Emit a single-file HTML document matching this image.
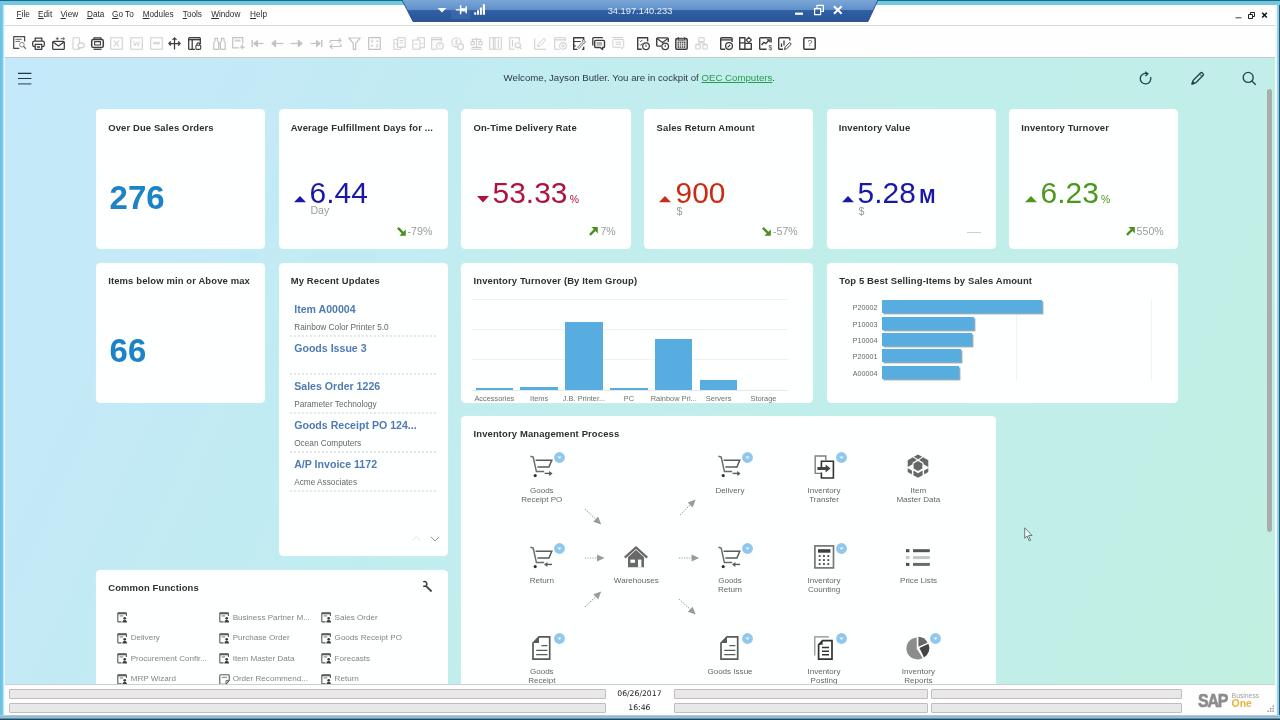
<!DOCTYPE html>
<html lang="en"><head><meta charset="utf-8"><title>SAP Business One - Cockpit</title>
<style>
html,body{margin:0;padding:0;}
body{width:1280px;height:720px;overflow:hidden;position:relative;font-family:"Liberation Sans",sans-serif;background:#6ec6e0;}
.t{position:absolute;line-height:1;white-space:nowrap;}
.card{position:absolute;background:rgba(255,255,255,.975);border-radius:4.5px;box-shadow:0 0 1px rgba(255,255,255,.6);}
svg{position:absolute;overflow:visible;}
#stage{position:absolute;left:0;top:0;width:1280px;height:720px;overflow:hidden;will-change:transform;}
</style></head><body><div id="stage">
<div style="position:absolute;left:4px;top:58px;width:1272px;height:627px;background:linear-gradient(115deg,#c4e9fa 0%,#c4e9f7 13%,#c1ebf3 27%,#c1edee 42%,#c0eeea 62%,#c1eee8 81%,#c1f0e0 100%);"></div>
<div style="position:absolute;left:3px;top:5px;width:1273px;height:20px;background:#fff;"></div>
<div style="position:absolute;left:3px;top:25px;width:1273px;height:1px;background:#d9d9d9;"></div>
<div style="position:absolute;left:3px;top:26px;width:1273px;height:31px;background:#fefefe;"></div>
<div style="position:absolute;left:3px;top:56.6px;width:1273px;height:1.4px;background:linear-gradient(180deg,#d9dcdb,#b3bbbb);"></div>
<div class="t" style="left:16.60px;top:11.00px;font-size:8.2px;color:#2b2b2b;text-underline-offset:1px;"><u>F</u>ile</div>
<div class="t" style="left:38.10px;top:11.00px;font-size:8.2px;color:#2b2b2b;text-underline-offset:1px;"><u>E</u>dit</div>
<div class="t" style="left:60.50px;top:11.00px;font-size:8.2px;color:#2b2b2b;text-underline-offset:1px;"><u>V</u>iew</div>
<div class="t" style="left:87.00px;top:11.00px;font-size:8.2px;color:#2b2b2b;text-underline-offset:1px;"><u>D</u>ata</div>
<div class="t" style="left:112.00px;top:11.00px;font-size:8.2px;color:#2b2b2b;text-underline-offset:1px;"><u>G</u>o To</div>
<div class="t" style="left:142.70px;top:11.00px;font-size:8.2px;color:#2b2b2b;text-underline-offset:1px;"><u>M</u>odules</div>
<div class="t" style="left:182.80px;top:11.00px;font-size:8.2px;color:#2b2b2b;text-underline-offset:1px;"><u>T</u>ools</div>
<div class="t" style="left:211.20px;top:11.00px;font-size:8.2px;color:#2b2b2b;text-underline-offset:1px;"><u>W</u>indow</div>
<div class="t" style="left:250.10px;top:11.00px;font-size:8.2px;color:#2b2b2b;text-underline-offset:1px;"><u>H</u>elp</div>
<svg style="left:1228px;top:8px" width="46" height="14" viewBox="0 0 46 14"><rect x="7.5" y="9" width="6" height="1.4" fill="#777"/><path d="M20.500 6.500h4v4h-4zM22.500 6.300V4.500h4v4h-1.800" fill="none" stroke="#222" stroke-width="1"/><path d="M34.2 4.8l4.6 4.8M38.8 4.8l-4.6 4.8" stroke="#111" stroke-width="1.5"/></svg>
<svg style="left:13.2px;top:36.1px" width="13" height="13" viewBox="0 0 13 13" fill="none" stroke="#3d3d3d" stroke-width="1.25" stroke-linejoin="round"><path d="M11.600 5.600V.7H.7v11.600h5.600" stroke="#4a4a4a"/><path d="M2.400 3.300h6.400M2.400 5.400h4.600" stroke-width="1" stroke="#666"/><circle cx="8.900" cy="8.700" r="2.300" stroke-width="1" stroke="#8a8a8a"/><path d="M10.500 10.400l2.300 2.300" stroke="#666"/></svg>
<svg style="left:31.9px;top:36.8px" width="13" height="13" viewBox="0 0 13 13" fill="none" stroke="#3d3d3d" stroke-width="1.25" stroke-linejoin="round"><path d="M3.2 4V1.1h6.6V4"/><rect x=".7" y="4" width="11.6" height="5.6" rx="1.6"/><rect x="3.2" y="7.4" width="6.6" height="4.9" fill="#fefefe"/><path d="M5 10h3" stroke-width="1.5"/></svg>
<svg style="left:52px;top:36.8px" width="13" height="13" viewBox="0 0 13 13" fill="none" stroke="#3d3d3d" stroke-width="1.25" stroke-linejoin="round"><rect x=".7" y="4.400" width="11.600" height="8" rx=".9"/><path d="M1 5l5.500 4 5.500-4"/><path d="M3.800 1.700h3M5.300 .2v3M8.600 1.700h3.800M11.200 .4l1.300 1.300-1.300 1.300" stroke-width=".9" stroke="#555"/></svg>
<svg style="left:71.7px;top:36.8px" width="13" height="13" viewBox="0 0 13 13" fill="none" stroke="#d0d0d0" stroke-width="1.1" stroke-linejoin="round"><rect x="1" y=".7" width="6.6" height="11.6" rx="1"/><ellipse cx="9.2" cy="8.4" rx="3.2" ry="2.5" fill="#fefefe"/><path d="M7 10.5l-.8 1.6 2-.9"/></svg>
<svg style="left:91px;top:36.8px" width="13" height="13" viewBox="0 0 13 13" fill="none" stroke="#3d3d3d" stroke-width="1.25" stroke-linejoin="round"><path d="M3 2.6V.9h7v1.7"/><rect x=".7" y="2.6" width="11.6" height="7.8" rx="1.6" stroke-width="1.5"/><rect x="3.6" y="4.6" width="5.8" height="3.4" stroke-width="1.1"/><path d="M2.6 12.4h7.8" stroke-width="1.1"/></svg>
<svg style="left:110.2px;top:36.8px" width="13" height="13" viewBox="0 0 13 13" fill="none" stroke="#d0d0d0" stroke-width="1.1" stroke-linejoin="round"><rect x=".7" y=".7" width="11.6" height="11.6"/><path d="M4 3.5l5 6M9 3.5l-5 6"/></svg>
<svg style="left:130.2px;top:36.8px" width="13" height="13" viewBox="0 0 13 13" fill="none" stroke="#d0d0d0" stroke-width="1.1" stroke-linejoin="round"><rect x=".7" y=".7" width="11.6" height="11.6"/><path d="M3.6 4.2l1.2 4.6 1.7-3.6 1.7 3.6 1.2-4.6" stroke-width=".9"/></svg>
<svg style="left:149.6px;top:36.8px" width="13" height="13" viewBox="0 0 13 13" fill="none" stroke="#d0d0d0" stroke-width="1.1" stroke-linejoin="round"><rect x=".7" y=".7" width="11.6" height="11.6"/><rect x="3.2" y="4.8" width="6.6" height="2.6" fill="#d8d8d8" stroke="none"/></svg>
<svg style="left:168.1px;top:36.8px" width="13" height="13" viewBox="0 0 13 13" fill="none" stroke="#3d3d3d" stroke-width="1.25" stroke-linejoin="round"><path d="M6.5 .9v11.6M.9 6.5h11.2"/><path d="M4.5 2.9l2-2 2 2M2.9 4.5l-2 2 2 2M10.1 4.5l2 2-2 2" /></svg>
<svg style="left:187.6px;top:36.8px" width="13" height="13" viewBox="0 0 13 13" fill="none" stroke="#3d3d3d" stroke-width="1.25" stroke-linejoin="round"><path d="M12.3 7V1.6a.9 .9 0 0 0-.9-.9H1.6a.9 .9 0 0 0-.9 .9v9.8a.9 .9 0 0 0 .9 .9H7" stroke-width="1.300"/><path d="M.7 2.600h11.600" stroke-width="1.500"/><path d="M4.200 2.700v9.600" stroke-width="1.300"/><rect x="7.9" y="8.2" width="4.8" height="4.2" rx=".9" fill="#fefefe" stroke-width="1.1"/><path d="M8.9 8.2V7.3a1.4 1.4 0 0 1 2.8 0v.9" stroke-width="1.1"/></svg>
<svg style="left:212.9px;top:36.8px" width="13" height="13" viewBox="0 0 13 13" fill="none" stroke="#c3c3c3" stroke-width="1.2" stroke-linejoin="round"><path d="M.8 12.3V5.6L2 4V1.3h2.6V4l1.1 1.6v6.7zM12.2 12.3V5.6L11 4V1.3H8.4V4L7.3 5.6v6.7zM5.7 6.6h1.6"/></svg>
<svg style="left:232.3px;top:36.8px" width="13" height="13" viewBox="0 0 13 13" fill="none" stroke="#c3c3c3" stroke-width="1.2" stroke-linejoin="round"><path d="M10.8 6.5V.7H.7v10.1h6"/><rect x="2.600" y="2.600" width="6" height="2" fill="#d0d0d0" stroke="none"/><path d="M10.2 7.6v5M7.7 10.1h5" stroke-width="1.4"/></svg>
<svg style="left:251px;top:36.8px" width="13" height="13" viewBox="0 0 13 13" fill="none" stroke="#c3c3c3" stroke-width="1.2" stroke-linejoin="round"><path d="M1.2 3v7" stroke-width="1.4"/><path d="M12.6 6.5H5"/><path d="M3 6.5l3.4-2.9v5.8z" fill="#c3c3c3"/></svg>
<svg style="left:271.3px;top:36.8px" width="13" height="13" viewBox="0 0 13 13" fill="none" stroke="#c3c3c3" stroke-width="1.2" stroke-linejoin="round"><path d="M12.6 6.5H3.5"/><path d="M1 6.5l3.6-3v6z" fill="#c3c3c3"/></svg>
<svg style="left:290px;top:36.8px" width="13" height="13" viewBox="0 0 13 13" fill="none" stroke="#c3c3c3" stroke-width="1.2" stroke-linejoin="round"><path d="M.4 6.5h9"/><path d="M12 6.5l-3.6-3v6z" fill="#c3c3c3"/></svg>
<svg style="left:309.5px;top:36.8px" width="13" height="13" viewBox="0 0 13 13" fill="none" stroke="#c3c3c3" stroke-width="1.2" stroke-linejoin="round"><path d="M11.8 3v7" stroke-width="1.4"/><path d="M.4 6.5H8"/><path d="M10 6.5L6.6 3.6v5.8z" fill="#c3c3c3"/></svg>
<svg style="left:329px;top:36.8px" width="13" height="13" viewBox="0 0 13 13" fill="none" stroke="#c3c3c3" stroke-width="1.2" stroke-linejoin="round"><path d="M1.2 6V3.5h10.6M9.6 1.2l2.3 2.3-2.3 2.3M11.8 7v2.5H1.2M3.4 7.2L1.1 9.5l2.3 2.3"/></svg>
<svg style="left:348.2px;top:36.8px" width="13" height="13" viewBox="0 0 13 13" fill="none" stroke="#c3c3c3" stroke-width="1.2" stroke-linejoin="round"><path d="M.8 1h11.4L7.7 6.4v5.9H5.3V6.4z"/></svg>
<svg style="left:367.5px;top:36.8px" width="13" height="13" viewBox="0 0 13 13" fill="none" stroke="#c3c3c3" stroke-width="1.2" stroke-linejoin="round"><rect x=".7" y=".7" width="11.6" height="11.6"/><path d="M3.2 3.2h2l-2 2h2M8 4.2h2.4M9.4 3.2l1 1-1 1M5.4 8.8H3M4 7.8l-1 1 1 1M8 7.8h2l-2 2h2" stroke-width=".7"/></svg>
<svg style="left:392.7px;top:36.8px" width="13" height="13" viewBox="0 0 13 13" fill="none" stroke="#d0d0d0" stroke-width="1.1" stroke-linejoin="round"><rect x="4.6" y=".7" width="7.6" height="9.4"/><path d="M4.6 2.6H.9v9.7h6.6v-2.2M6.6 3.6h3.6M6.6 5.8h3.6M2.4 7h3" stroke-width="1"/></svg>
<svg style="left:412px;top:36.8px" width="13" height="13" viewBox="0 0 13 13" fill="none" stroke="#d0d0d0" stroke-width="1.1" stroke-linejoin="round"><rect x=".9" y="3" width="7" height="9.3"/><path d="M5.6 3V.7h6.7v10H7.9"/><path d="M2.8 7h2.6M9.4 6.5h1.8" stroke-width="1"/></svg>
<svg style="left:431.2px;top:36.8px" width="13" height="13" viewBox="0 0 13 13" fill="none" stroke="#d0d0d0" stroke-width="1.1" stroke-linejoin="round"><path d="M10.4 4V.7H.7v11.6h5.5M.7 2.6h9.7"/><circle cx="8.9" cy="8.9" r="3.3" fill="#fefefe"/><path d="M8.9 7.2v2.2" stroke-width="1"/></svg>
<svg style="left:450.7px;top:36.8px" width="13" height="13" viewBox="0 0 13 13" fill="none" stroke="#d0d0d0" stroke-width="1.1" stroke-linejoin="round"><circle cx="5.4" cy="5.3" r="4.6"/><circle cx="9.6" cy="9.8" r="2.9" fill="#fefefe"/><path d="M6.9 3.8c-1.6-1-3.3 .3-1.6 1.3 1.9 .8 .9 2.4-1.6 1.3M5.3 2.4v5.8" stroke-width=".8"/></svg>
<svg style="left:470px;top:36.8px" width="13" height="13" viewBox="0 0 13 13" fill="none" stroke="#d0d0d0" stroke-width="1.1" stroke-linejoin="round"><path d="M.8 12.3h11.4M1.6 10.4h9.8M6.5 .4v10M1.6 2.4h9.8M2.6 2.4v2.2M10.4 2.4v2.2"/><rect x="1" y="4.6" width="3.2" height="3"/><rect x="8.8" y="4.6" width="3.2" height="3"/></svg>
<svg style="left:489.2px;top:36.8px" width="13" height="13" viewBox="0 0 13 13" fill="none" stroke="#d0d0d0" stroke-width="1.1" stroke-linejoin="round"><rect x=".7" y=".7" width="11.6" height="11.6"/><path d="M4.4 .7v11.6M6 .7v11.6M9.3 2.2v8.6"/></svg>
<svg style="left:509px;top:36.8px" width="13" height="13" viewBox="0 0 13 13" fill="none" stroke="#d0d0d0" stroke-width="1.1" stroke-linejoin="round"><path d="M10.4 4.6V.7H.7v11.6h5M3.4 3v6.4"/><circle cx="8.8" cy="8.3" r="2.6" fill="#fefefe"/><path d="M10.6 10.2l2 2.1"/></svg>
<svg style="left:533.9px;top:36.8px" width="13" height="13" viewBox="0 0 13 13" fill="none" stroke="#d0d0d0" stroke-width="1.1" stroke-linejoin="round"><path d="M.7 1.6v10.7h11.4"/><path d="M3.4 9.6l.9-2.7L10 1.2l1.8 1.8-5.7 5.7z" stroke-width="1"/></svg>
<svg style="left:553.5px;top:36.8px" width="13" height="13" viewBox="0 0 13 13" fill="none" stroke="#d0d0d0" stroke-width="1.1" stroke-linejoin="round"><path d="M11.3 4V.7H.7v11.6h4.8M.7 2.9h10.6"/><circle cx="8.9" cy="8.9" r="3.3" fill="#fefefe"/><circle cx="8.9" cy="8.9" r="1.2" stroke-width=".9"/></svg>
<svg style="left:573px;top:36.8px" width="13" height="13" viewBox="0 0 13 13" fill="none" stroke="#3d3d3d" stroke-width="1.25" stroke-linejoin="round"><path d="M10.700 3.300V.7H.7v11.700h3.700M9 12.400h1.700V9.800" stroke-width="1.400"/><path d="M.7 4.500h7M.7 8.800h2" stroke-width="1.200"/><path d="M9.400 3.100l.9-.6 2.300 2.300-.6 .9-.9 .3-5 5.600-1.500-1.500 5.200-5.200z" fill="#e9e9e9" stroke="#4a4a4a" stroke-width=".7"/></svg>
<svg style="left:592px;top:36.8px" width="13" height="13" viewBox="0 0 13 13" fill="none" stroke="#3d3d3d" stroke-width="1.25" stroke-linejoin="round"><path d="M.8 8.600V1.500a.8 .8 0 0 1 .8-.8h9.200" stroke-width="1.300"/><path d="M3.600 3.400h8a.9 .9 0 0 1 .9 .9v5.300a.9 .9 0 0 1-.9 .9h-.9l-.2 2-2.200-2H3.600a.9 .9 0 0 1-.9-.9V4.300a.9 .9 0 0 1 .9-.9z" stroke-width="1.400"/><rect x="4.600" y="5" width="5.600" height="3.700" fill="#b4b4b4" stroke="none"/></svg>
<svg style="left:611.6px;top:36.8px" width="13" height="13" viewBox="0 0 13 13" fill="none" stroke="#d0d0d0" stroke-width="1.1" stroke-linejoin="round"><path d="M.2 .6h10.800"/><path d="M1.600 2.600h9.400a.7 .7 0 0 1 .7 .7v6.200a.7 .7 0 0 1-.7 .7h-.6l-.2 1.600-1.800-1.600H1.600a.7 .7 0 0 1-.7-.7V3.300a.7 .7 0 0 1 .7-.7zM3.600 5.200h5.800M3.600 7.300h5.800" stroke-width="1"/></svg>
<svg style="left:636.7px;top:36.8px" width="13" height="13" viewBox="0 0 13 13" fill="none" stroke="#3d3d3d" stroke-width="1.25" stroke-linejoin="round"><path d="M10.6 4.6V.7H.7v11.6h4" stroke-width="1.4"/><path d="M2.8 3.8l.9 .9 1.6-1.8M2.8 7.4l.9 .9 1.6-1.8" stroke-width=".9"/><circle cx="9" cy="9.2" r="3.3" fill="#fefefe"/><path d="M9 7.6v2.3" stroke-width="1"/></svg>
<svg style="left:656px;top:36.8px" width="13" height="13" viewBox="0 0 13 13" fill="none" stroke="#3d3d3d" stroke-width="1.25" stroke-linejoin="round"><path d="M12.3 5V1.8a.9 .9 0 0 0-.9-.9H1.6a.9 .9 0 0 0-.9 .9v6.4a.9 .9 0 0 0 .9 .9h3.6" stroke-width="1.4"/><path d="M1 1.6l5.5 3.8L12 1.6" stroke-width="1.2"/><circle cx="9.2" cy="9.3" r="3.3" fill="#fefefe"/><path d="M9.2 7.7v2.3" stroke-width="1"/></svg>
<svg style="left:675.4px;top:36.8px" width="13" height="13" viewBox="0 0 13 13" fill="none" stroke="#3d3d3d" stroke-width="1.25" stroke-linejoin="round"><rect x=".8" y="1.6" width="11.4" height="10.6" rx="1.2" stroke-width="1.5"/><rect x="2.4" y="1.6" width="8.2" height="2.8" fill="#8a8a8a" stroke="none"/><path d="M3.3 .2v2.8M9.7 .2v2.8" stroke-width="1.1"/><rect x="2.6" y="4.8" width="7.8" height="6" fill="#444" stroke="none"/><path d="M4.55 4.8v6M6.5 4.8v6M8.45 4.8v6M2.6 6.8h7.8M2.6 8.8h7.8" stroke="#fefefe" stroke-width=".7"/></svg>
<svg style="left:694.8px;top:36.8px" width="13" height="13" viewBox="0 0 13 13" fill="none" stroke="#d0d0d0" stroke-width="1.1" stroke-linejoin="round"><rect x="3.8" y=".8" width="5.4" height="3.8" rx=".6"/><rect x=".8" y="7.6" width="4.4" height="4.4" rx=".6"/><rect x="7.8" y="7.6" width="4.4" height="4.4" rx=".6"/><path d="M6.5 4.6v1.5M3 7.6V6.1h7v1.5" stroke-width="1"/></svg>
<svg style="left:720px;top:36.8px" width="13" height="13" viewBox="0 0 13 13" fill="none" stroke="#3d3d3d" stroke-width="1.25" stroke-linejoin="round"><path d="M12.1 5V1.6a.9 .9 0 0 0-.9-.9H1.6a.9 .9 0 0 0-.9 .9v9.8a.9 .9 0 0 0 .9 .9h3.6" stroke-width="1.4"/><path d="M.7 2.9h11.4" stroke-width="1.3"/><circle cx="9" cy="9.1" r="3.4" fill="#fefefe" stroke-width="1.3"/><path d="M7.6 10.4l2.6-2.4" stroke-width="1.1"/></svg>
<svg style="left:739.3px;top:36.8px" width="13" height="13" viewBox="0 0 13 13" fill="none" stroke="#3d3d3d" stroke-width="1.25" stroke-linejoin="round"><path d="M5.9 .7H.7v5.2h5.2zM.7 5.9v6.4h5.2V5.9M5.9 12.3h6.4V6.4H5.9" stroke-width="1.4"/><path d="M9.8 .4l2.6 2.6-2.6 2.6-2.6-2.6z" stroke-width="1.1"/></svg>
<svg style="left:759px;top:36.8px" width="13" height="13" viewBox="0 0 13 13" fill="none" stroke="#3d3d3d" stroke-width="1.25" stroke-linejoin="round"><path d="M12.1 5.6V1.6a.9 .9 0 0 0-.9-.9H1.6a.9 .9 0 0 0-.9 .9v9.8a.9 .9 0 0 0 .9 .9h6" stroke-width="1.4"/><path d="M2.6 8l2.4-2.8 1.8 1.4 3.2-3.6" stroke-width="1.4"/><path d="M8 2.4h2.9v2.9z" fill="#3d3d3d" stroke-width=".5"/></svg>
<svg style="left:778px;top:36.8px" width="13" height="13" viewBox="0 0 13 13" fill="none" stroke="#3d3d3d" stroke-width="1.25" stroke-linejoin="round"><path d="M11.8 3.6V1.6a.9 .9 0 0 0-.9-.9H1.6a.9 .9 0 0 0-.9 .9v9.8a.9 .9 0 0 0 .9 .9h3.4" stroke-width="1.4"/><path d="M3.5 6.4v3.6M6 3.6v5" stroke-width="1.3"/><path d="M6.4 12.5l.7-2.4 4.6-4.6 1.6 1.6-4.6 4.6z" stroke-width="1"/></svg>
<svg style="left:803.3px;top:36.8px" width="13" height="13" viewBox="0 0 13 13" fill="none" stroke="#3d3d3d" stroke-width="1.25" stroke-linejoin="round"><rect x=".8" y=".8" width="11.4" height="11.4" rx="1.2" stroke-width="1.5"/></svg>
<div class="t" style="left:768.40px;top:45.00px;font-size:6.6px;color:#666;font-weight:bold;">$</div>
<div class="t" style="left:803.80px;width:12px;text-align:center;top:39.00px;font-size:8.6px;color:#666;">?</div>
<svg style="left:17.8px;top:72px" width="14" height="13" viewBox="0 0 14 13"><path d="M0 1.3h13.4M0 6.5h13.4" stroke="#1f3646" stroke-width="1.2"/><path d="M0 11.9h13.4" stroke="#4f6674" stroke-width="1.3"/></svg>
<div class="t" style="left:503.6px;top:72.9px;font-size:9.66px;color:#2b3a42;">Welcome, Jayson Butler. You are in cockpit of <span style="color:#2a9a4c;text-decoration:underline;text-underline-offset:1px;">OEC Computers</span>.</div>
<svg style="left:1138px;top:71px" width="15" height="15" viewBox="0 0 15 15" fill="none" stroke="#224648" stroke-width="1.350"><path d="M9.2 2.6A5.3 5.3 0 1 0 12.6 6"/><path d="M7.2 .8l2.6 1.9-2.3 2.2" fill="none"/></svg>
<svg style="left:1190px;top:71px" width="15" height="15" viewBox="0 0 15 15" fill="none" stroke="#224648" stroke-width="1.350" stroke-linejoin="round"><path d="M2.2 12.8l.9-3.4 7.6-7.6a1 1 0 0 1 1.4 0l1.1 1.1a1 1 0 0 1 0 1.4l-7.6 7.6z"/><path d="M2 13l2.300-.7-1.600-1.700z" fill="#224648"/><path d="M9.500 3l2.500 2.500" stroke-width="1"/></svg>
<svg style="left:1242px;top:71px" width="15" height="15" viewBox="0 0 15 15" fill="none" stroke="#224648" stroke-width="1.350"><circle cx="6.2" cy="6.4" r="5"/><path d="M9.8 10l4 3.8"/></svg>
<div style="position:absolute;left:1267.4px;top:88.6px;width:4.9px;height:443.6px;background:#a8aeab;border-radius:2.4px;"></div>
<div class="card" style="left:96.2px;top:109px;width:169.3px;height:140px;"></div>
<div class="card" style="left:278.8px;top:109px;width:169.3px;height:140px;"></div>
<div class="card" style="left:461.4px;top:109px;width:169.3px;height:140px;"></div>
<div class="card" style="left:644px;top:109px;width:169.3px;height:140px;"></div>
<div class="card" style="left:826.6px;top:109px;width:169.3px;height:140px;"></div>
<div class="card" style="left:1009.2px;top:109px;width:169.3px;height:140px;"></div>
<div class="card" style="left:96.2px;top:262.5px;width:169.3px;height:140.2px;"></div>
<div class="card" style="left:278.8px;top:262.5px;width:169.3px;height:293.2px;"></div>
<div class="card" style="left:461.4px;top:262.5px;width:351.9px;height:140.2px;"></div>
<div class="card" style="left:826.6px;top:262.5px;width:351.9px;height:140.2px;"></div>
<div class="card" style="left:461.4px;top:416px;width:534.6px;height:290px;"></div>
<div class="card" style="left:96.2px;top:569.6px;width:351.9px;height:140px;"></div>
<div class="t" style="left:108.20px;top:123.00px;font-size:9.45px;color:#2f2f2f;font-weight:bold;letter-spacing:0.13px;">Over Due Sales Orders</div>
<div class="t" style="left:290.70px;top:123.00px;font-size:9.45px;color:#2f2f2f;font-weight:bold;letter-spacing:0.13px;">Average Fulfillment Days for ...</div>
<div class="t" style="left:473.50px;top:123.00px;font-size:9.45px;color:#2f2f2f;font-weight:bold;letter-spacing:0.13px;">On-Time Delivery Rate</div>
<div class="t" style="left:656.60px;top:123.00px;font-size:9.45px;color:#2f2f2f;font-weight:bold;letter-spacing:0.13px;">Sales Return Amount</div>
<div class="t" style="left:838.70px;top:123.00px;font-size:9.45px;color:#2f2f2f;font-weight:bold;letter-spacing:0.13px;">Inventory Value</div>
<div class="t" style="left:1021.30px;top:123.00px;font-size:9.45px;color:#2f2f2f;font-weight:bold;letter-spacing:0.13px;">Inventory Turnover</div>
<div class="t" style="left:108.20px;top:276.00px;font-size:9.45px;color:#2f2f2f;font-weight:bold;letter-spacing:0.13px;">Items below min or Above max</div>
<div class="t" style="left:290.70px;top:276.00px;font-size:9.45px;color:#2f2f2f;font-weight:bold;letter-spacing:0.13px;">My Recent Updates</div>
<div class="t" style="left:473.50px;top:276.00px;font-size:9.45px;color:#2f2f2f;font-weight:bold;letter-spacing:0.13px;">Inventory Turnover (By Item Group)</div>
<div class="t" style="left:839.20px;top:276.00px;font-size:9.45px;color:#2f2f2f;font-weight:bold;letter-spacing:0.13px;">Top 5 Best Selling-Items by Sales Amount</div>
<div class="t" style="left:473.50px;top:429.00px;font-size:9.45px;color:#2f2f2f;font-weight:bold;letter-spacing:0.13px;">Inventory Management Process</div>
<div class="t" style="left:108.20px;top:583.00px;font-size:9.45px;color:#2f2f2f;font-weight:bold;letter-spacing:0.13px;">Common Functions</div>
<div class="t" style="left:109.60px;top:181.00px;font-size:33px;color:#1c84c6;font-weight:bold;">276</div>
<div class="t" style="left:109.60px;top:334.00px;font-size:33px;color:#1c84c6;font-weight:bold;">66</div>
<svg style="left:294px;top:196.2px" width="12" height="7" viewBox="0 0 12 7"><path d="M0 6.2L6 0l6 6.2z" fill="#1a18a8"/></svg>
<div class="t" style="left:309.60px;top:178.00px;font-size:29.9px;color:#1a18a8;">6.44</div>
<div class="t" style="left:310.40px;top:205.00px;font-size:10.6px;color:#9b9b9b;">Day</div>
<svg style="left:397px;top:226.6px" width="9" height="9" viewBox="0 0 9 9"><path d="M.05 1.750L1.750 .05 6.450 4.750 8.800 2.400V8.800H2.400L4.750 6.450z" fill="#4b8f1e"/></svg>
<div class="t" style="left:407.60px;top:226.00px;font-size:10.6px;color:#9b9b9b;">-79%</div>
<svg style="left:476.6px;top:196px" width="12" height="7" viewBox="0 0 12 7"><path d="M0 0h12L6 6.4z" fill="#ae1440"/></svg>
<div class="t" style="left:492.60px;top:178.00px;font-size:29.9px;color:#ae1440;">53.33</div>
<div class="t" style="left:569.80px;top:195.00px;font-size:10.4px;color:#ae1440;">%</div>
<svg style="left:589px;top:226.6px" width="9" height="9" viewBox="0 0 9 9"><path d="M.05 7.050L1.750 8.750 6.450 4.050 8.800 6.400V0H2.400L4.750 2.350z" fill="#4b8f1e"/></svg>
<div class="t" style="left:600.40px;top:226.00px;font-size:10.6px;color:#9b9b9b;">7%</div>
<svg style="left:659.2px;top:196.2px" width="12" height="7" viewBox="0 0 12 7"><path d="M0 6.2L6 0l6 6.2z" fill="#c92c12"/></svg>
<div class="t" style="left:675.60px;top:178.00px;font-size:29.9px;color:#c92c12;">900</div>
<div class="t" style="left:676.60px;top:206.00px;font-size:10.6px;color:#9b9b9b;">$</div>
<svg style="left:762px;top:226.6px" width="9" height="9" viewBox="0 0 9 9"><path d="M.05 1.750L1.750 .05 6.450 4.750 8.800 2.400V8.800H2.400L4.750 6.450z" fill="#4b8f1e"/></svg>
<div class="t" style="left:773.00px;top:226.00px;font-size:10.6px;color:#9b9b9b;">-57%</div>
<svg style="left:842px;top:196.2px" width="12" height="7" viewBox="0 0 12 7"><path d="M0 6.2L6 0l6 6.2z" fill="#1a18a8"/></svg>
<div class="t" style="left:857.60px;top:178.00px;font-size:29.9px;color:#1a18a8;">5.28</div>
<div class="t" style="left:919.20px;top:187.00px;font-size:19.4px;color:#1a18a8;font-weight:bold;">M</div>
<div class="t" style="left:858.60px;top:206.00px;font-size:10.6px;color:#9b9b9b;">$</div>
<div style="position:absolute;left:967px;top:232.2px;width:14px;height:1.2px;background:#cfcfcf;"></div>
<svg style="left:1024.6px;top:196.2px" width="12" height="7" viewBox="0 0 12 7"><path d="M0 6.2L6 0l6 6.2z" fill="#4b981c"/></svg>
<div class="t" style="left:1040.60px;top:178.00px;font-size:29.9px;color:#4b981c;">6.23</div>
<div class="t" style="left:1101.00px;top:195.00px;font-size:10.4px;color:#4b981c;">%</div>
<svg style="left:1125.6px;top:226.6px" width="9" height="9" viewBox="0 0 9 9"><path d="M.05 7.050L1.750 8.750 6.450 4.050 8.800 6.400V0H2.400L4.750 2.350z" fill="#4b8f1e"/></svg>
<div class="t" style="left:1136.60px;top:226.00px;font-size:10.6px;color:#9b9b9b;">550%</div>
<div class="t" style="left:294.20px;top:304.00px;font-size:10.6px;color:#4f7bb4;font-weight:bold;">Item A00004</div>
<div class="t" style="left:294.20px;top:324.00px;font-size:8.25px;color:#666;">Rainbow Color Printer 5.0</div>
<svg style="left:290px;top:334.70px" width="147" height="2" viewBox="0 0 147 2"><path d="M0 1h146.4" stroke="#bcc4ca" stroke-width="1" stroke-dasharray="1.7 2.3"/></svg>
<div class="t" style="left:294.20px;top:343.00px;font-size:10.6px;color:#4f7bb4;font-weight:bold;">Goods Issue 3</div>
<svg style="left:290px;top:373.40px" width="147" height="2" viewBox="0 0 147 2"><path d="M0 1h146.4" stroke="#bcc4ca" stroke-width="1" stroke-dasharray="1.7 2.3"/></svg>
<div class="t" style="left:294.20px;top:381.00px;font-size:10.6px;color:#4f7bb4;font-weight:bold;">Sales Order 1226</div>
<div class="t" style="left:294.20px;top:401.00px;font-size:8.25px;color:#666;">Parameter Technology</div>
<svg style="left:290px;top:412.10px" width="147" height="2" viewBox="0 0 147 2"><path d="M0 1h146.4" stroke="#bcc4ca" stroke-width="1" stroke-dasharray="1.7 2.3"/></svg>
<div class="t" style="left:294.20px;top:420.00px;font-size:10.6px;color:#4f7bb4;font-weight:bold;">Goods Receipt PO 124...</div>
<div class="t" style="left:294.20px;top:440.00px;font-size:8.25px;color:#666;">Ocean Computers</div>
<svg style="left:290px;top:450.80px" width="147" height="2" viewBox="0 0 147 2"><path d="M0 1h146.4" stroke="#bcc4ca" stroke-width="1" stroke-dasharray="1.7 2.3"/></svg>
<div class="t" style="left:294.20px;top:459.00px;font-size:10.6px;color:#4f7bb4;font-weight:bold;">A/P Invoice 1172</div>
<div class="t" style="left:294.20px;top:479.00px;font-size:8.25px;color:#666;">Acme Associates</div>
<svg style="left:290px;top:489.50px" width="147" height="2" viewBox="0 0 147 2"><path d="M0 1h146.4" stroke="#bcc4ca" stroke-width="1" stroke-dasharray="1.7 2.3"/></svg>
<svg style="left:411px;top:534px" width="30" height="9" viewBox="0 0 30 9" fill="none" stroke-width="1"><path d="M1.6 6.6l3.9-3.9 3.9 3.9" stroke="#dfe3e6"/><path d="M19.8 2.8l4.2 4.2 4.2-4.2" stroke="#8f979c"/></svg>
<div style="position:absolute;left:472px;top:298.8px;width:316px;height:0.9px;background:#f0f0f0;"></div>
<div style="position:absolute;left:472px;top:329.0px;width:316px;height:0.9px;background:#f0f0f0;"></div>
<div style="position:absolute;left:472px;top:359.20000000000005px;width:316px;height:0.9px;background:#f0f0f0;"></div>
<div style="position:absolute;left:472px;top:390px;width:316px;height:1px;background:#e8e8e8;"></div>
<div style="position:absolute;left:475.6px;top:388.2px;width:37.4px;height:2.2px;background:#57addf;"></div>
<div class="t" style="left:459.30px;width:70px;text-align:center;top:395.00px;font-size:7.4px;color:#6e6e6e;">Accessories</div>
<div style="position:absolute;left:520.46px;top:386.6px;width:37.4px;height:3.8px;background:#57addf;"></div>
<div class="t" style="left:504.16px;width:70px;text-align:center;top:395.00px;font-size:7.4px;color:#6e6e6e;">Items</div>
<div style="position:absolute;left:565.32px;top:322.4px;width:37.4px;height:68.0px;background:#57addf;"></div>
<div class="t" style="left:549.02px;width:70px;text-align:center;top:395.00px;font-size:7.4px;color:#6e6e6e;">J.B. Printer...</div>
<div style="position:absolute;left:610.18px;top:388.4px;width:37.4px;height:2.0px;background:#57addf;"></div>
<div class="t" style="left:593.88px;width:70px;text-align:center;top:395.00px;font-size:7.4px;color:#6e6e6e;">PC</div>
<div style="position:absolute;left:655.04px;top:339px;width:37.4px;height:51.4px;background:#57addf;"></div>
<div class="t" style="left:638.74px;width:70px;text-align:center;top:395.00px;font-size:7.4px;color:#6e6e6e;">Rainbow Pri...</div>
<div style="position:absolute;left:699.9px;top:380.2px;width:37.4px;height:10.2px;background:#57addf;"></div>
<div class="t" style="left:683.60px;width:70px;text-align:center;top:395.00px;font-size:7.4px;color:#6e6e6e;">Servers</div>
<div class="t" style="left:728.46px;width:70px;text-align:center;top:395.00px;font-size:7.4px;color:#6e6e6e;">Storage</div>
<div style="position:absolute;left:1016.2px;top:300px;width:0.8px;height:81px;background:#f2f2f2;"></div>
<div style="position:absolute;left:1151px;top:300px;width:0.8px;height:81px;background:#f2f2f2;"></div>
<div style="position:absolute;left:882.2px;top:300.3px;width:160.2px;height:12.8px;background:#57addf;box-shadow:1.4px 1.4px 0 #93aab8;"></div>
<div class="t" style="left:852.80px;top:305.00px;font-size:7.15px;color:#666;">P20002</div>
<div style="position:absolute;left:882.2px;top:317.3px;width:91.8px;height:12.8px;background:#57addf;box-shadow:1.4px 1.4px 0 #93aab8;"></div>
<div class="t" style="left:852.80px;top:322.00px;font-size:7.15px;color:#666;">P10003</div>
<div style="position:absolute;left:882.2px;top:333.3px;width:89.8px;height:12.8px;background:#57addf;box-shadow:1.4px 1.4px 0 #93aab8;"></div>
<div class="t" style="left:852.80px;top:338.00px;font-size:7.15px;color:#666;">P10004</div>
<div style="position:absolute;left:882.2px;top:349.4px;width:79.0px;height:12.8px;background:#57addf;box-shadow:1.4px 1.4px 0 #93aab8;"></div>
<div class="t" style="left:852.80px;top:354.00px;font-size:7.15px;color:#666;">P20001</div>
<div style="position:absolute;left:882.2px;top:366px;width:76.4px;height:12.8px;background:#57addf;box-shadow:1.4px 1.4px 0 #93aab8;"></div>
<div class="t" style="left:852.80px;top:371.00px;font-size:7.15px;color:#666;">A00004</div>
<svg style="left:530.20px;top:455.20px" width="23" height="23" viewBox="0 0 23 23" fill="none" stroke="#5a5a5a" stroke-width="1.5" stroke-linejoin="miter"><path d="M.4 1.2l2.8 .8 3.2 14.6h7.8" stroke="#6a6a6a"/><path d="M5.6 5.2h16.2l-2.9 6.8H7.4"/><path d="M14.6 18.4h6.2" stroke-width="1.4"/><path d="M22.6 18.4l-3.4-2.5v5z" fill="#5a5a5a" stroke="none"/><circle cx="5.2" cy="20.6" r="1.55" fill="#2e2e2e" stroke="none"/></svg>
<svg style="left:553.90px;top:451.80px" width="11" height="11" viewBox="0 0 11 11"><circle cx="5.5" cy="5.5" r="5.4" fill="#8fc8ec"/><path d="M3.3 4.4h4.4L5.5 6.9z" fill="#e8f6fd"/></svg>
<div class="t" style="left:496.80px;width:90px;text-align:center;top:487.00px;font-size:8.05px;color:#666;">Goods</div><div class="t" style="left:496.80px;width:90px;text-align:center;top:496.00px;font-size:8.05px;color:#666;">Receipt PO</div>
<svg style="left:718.00px;top:455.20px" width="23" height="23" viewBox="0 0 23 23" fill="none" stroke="#5a5a5a" stroke-width="1.5" stroke-linejoin="miter"><path d="M.4 1.2l2.8 .8 3.2 14.6h7.8" stroke="#6a6a6a"/><path d="M5.6 5.2h16.2l-2.9 6.8H7.4"/><path d="M14.6 18.4h6.2" stroke-width="1.4"/><path d="M22.6 18.4l-3.4-2.5v5z" fill="#5a5a5a" stroke="none"/><circle cx="5.2" cy="20.6" r="1.55" fill="#2e2e2e" stroke="none"/></svg>
<svg style="left:742.10px;top:451.80px" width="11" height="11" viewBox="0 0 11 11"><circle cx="5.5" cy="5.5" r="5.4" fill="#8fc8ec"/><path d="M3.3 4.4h4.4L5.5 6.9z" fill="#e8f6fd"/></svg>
<div class="t" style="left:685.00px;width:90px;text-align:center;top:487.00px;font-size:8.05px;color:#666;">Delivery</div>
<svg style="left:813.9px;top:454.8px" width="21" height="24" viewBox="0 0 21 24" fill="none" stroke-linejoin="miter"><path d="M6.6 18.4H1.2V1h10.6v4.2" stroke="#7d7d7d" stroke-width="1.4"/><path d="M7.4 12V6.2h12V23h-12v-5.4" stroke="#333" stroke-width="1.6"/><path d="M3.4 12.1h8.2v-2.6l5 4-5 4v-2.6H3.4z" fill="#444"/></svg>
<svg style="left:836.10px;top:451.80px" width="11" height="11" viewBox="0 0 11 11"><circle cx="5.5" cy="5.5" r="5.4" fill="#8fc8ec"/><path d="M3.3 4.4h4.4L5.5 6.9z" fill="#e8f6fd"/></svg>
<div class="t" style="left:779.00px;width:90px;text-align:center;top:487.00px;font-size:8.05px;color:#666;">Inventory</div><div class="t" style="left:779.00px;width:90px;text-align:center;top:496.00px;font-size:8.05px;color:#666;">Transfer</div>
<svg style="left:905.90px;top:453.20px" width="24" height="26" viewBox="-12 -13 24 26" fill="#666"><polygon points="0.00,-11.60 4.20,-9.20 0.00,-6.80 -4.20,-9.20"/><polygon points="0.00,-5.10 4.40,-2.55 4.40,2.55 0.00,5.10 -4.40,2.55 -4.40,-2.55"/><polygon points="5.10,-8.70 10.30,-5.80 10.30,0.90 5.50,-1.80 5.50,-3.30 1.10,-5.90"/><polygon points="-5.10,-8.70 -10.30,-5.80 -10.30,0.90 -5.50,-1.80 -5.50,-3.30 -1.10,-5.90"/><polygon points="10.30,2.30 10.30,6.00 6.10,8.40 6.10,4.60"/><polygon points="-10.30,2.30 -10.30,6.00 -6.10,8.40 -6.10,4.60"/><polygon points="-4.60,4.60 0.00,7.20 4.60,4.60 4.60,9.20 0.00,11.80 -4.60,9.20"/></svg>
<div class="t" style="left:873.30px;width:90px;text-align:center;top:487.00px;font-size:8.05px;color:#666;">Item</div><div class="t" style="left:873.30px;width:90px;text-align:center;top:496.00px;font-size:8.05px;color:#666;">Master Data</div>
<svg style="left:530.20px;top:545.90px" width="23" height="23" viewBox="0 0 23 23" fill="none" stroke="#5a5a5a" stroke-width="1.5" stroke-linejoin="miter"><path d="M.4 1.2l2.8 .8 3.2 14.6h7.8" stroke="#6a6a6a"/><path d="M5.6 5.2h16.2l-2.9 6.8H7.4"/><path d="M22 18.4h-6.4" stroke-width="1.4"/><path d="M14 18.4l3.4-2.5v5z" fill="#5a5a5a" stroke="none"/><circle cx="5.2" cy="20.6" r="1.55" fill="#2e2e2e" stroke="none"/></svg>
<svg style="left:553.90px;top:542.60px" width="11" height="11" viewBox="0 0 11 11"><circle cx="5.5" cy="5.5" r="5.4" fill="#8fc8ec"/><path d="M3.3 4.4h4.4L5.5 6.9z" fill="#e8f6fd"/></svg>
<div class="t" style="left:496.80px;width:90px;text-align:center;top:577.00px;font-size:8.05px;color:#666;">Return</div>
<svg style="left:623.6px;top:545.4px" width="24" height="23" viewBox="0 0 24 23"><path d="M4 11.400L12 4.200l8 7.200v10.900H4z" fill="#696969"/><path d="M.8 12.600L12 2.400l11.200 10.200" fill="none" stroke="#fdfdfd" stroke-width="3.500"/><path d="M.8 12.600L12 2.400l11.200 10.200" fill="none" stroke="#666" stroke-width="2.200"/><rect x="6.400" y="14.600" width="4.600" height="3.200" fill="#fdfdfd"/><rect x="14" y="14.600" width="3.400" height="7.800" fill="#fdfdfd"/></svg>
<div class="t" style="left:591.30px;width:90px;text-align:center;top:577.00px;font-size:8.05px;color:#666;">Warehouses</div>
<svg style="left:718.00px;top:545.90px" width="23" height="23" viewBox="0 0 23 23" fill="none" stroke="#5a5a5a" stroke-width="1.5" stroke-linejoin="miter"><path d="M.4 1.2l2.8 .8 3.2 14.6h7.8" stroke="#6a6a6a"/><path d="M5.6 5.2h16.2l-2.9 6.8H7.4"/><path d="M22 18.4h-6.4" stroke-width="1.4"/><path d="M14 18.4l3.4-2.5v5z" fill="#5a5a5a" stroke="none"/><circle cx="5.2" cy="20.6" r="1.55" fill="#2e2e2e" stroke="none"/></svg>
<svg style="left:742.10px;top:542.60px" width="11" height="11" viewBox="0 0 11 11"><circle cx="5.5" cy="5.5" r="5.4" fill="#8fc8ec"/><path d="M3.3 4.4h4.4L5.5 6.9z" fill="#e8f6fd"/></svg>
<div class="t" style="left:685.00px;width:90px;text-align:center;top:577.00px;font-size:8.05px;color:#666;">Goods</div><div class="t" style="left:685.00px;width:90px;text-align:center;top:586.00px;font-size:8.05px;color:#666;">Return</div>
<svg style="left:813.6px;top:545.2px" width="21" height="24" viewBox="0 0 21 24"><rect x=".9" y=".9" width="18.6" height="22" fill="none" stroke="#777" stroke-width="1.7"/><rect x="4" y="4.2" width="12.4" height="3.5" fill="#3f3f3f"/><rect x="4.7" y="10.1" width="1.9" height="1.9" fill="#555"/><rect x="4.7" y="14.1" width="1.9" height="1.9" fill="#555"/><rect x="4.7" y="18.1" width="1.9" height="1.9" fill="#555"/><rect x="9.0" y="10.1" width="1.9" height="1.9" fill="#555"/><rect x="9.0" y="14.1" width="1.9" height="1.9" fill="#555"/><rect x="9.0" y="18.1" width="1.9" height="1.9" fill="#555"/><rect x="13.3" y="10.1" width="1.9" height="1.9" fill="#555"/><rect x="13.3" y="14.1" width="1.9" height="1.9" fill="#555"/><rect x="13.3" y="18.1" width="1.9" height="1.9" fill="#555"/></svg>
<svg style="left:836.10px;top:542.60px" width="11" height="11" viewBox="0 0 11 11"><circle cx="5.5" cy="5.5" r="5.4" fill="#8fc8ec"/><path d="M3.3 4.4h4.4L5.5 6.9z" fill="#e8f6fd"/></svg>
<div class="t" style="left:779.00px;width:90px;text-align:center;top:577.00px;font-size:8.05px;color:#666;">Inventory</div><div class="t" style="left:779.00px;width:90px;text-align:center;top:586.00px;font-size:8.05px;color:#666;">Counting</div>
<svg style="left:906px;top:548.6px" width="24" height="17" viewBox="0 0 24 17"><rect x="0" y=".2" width="3.4" height="3" fill="#4a4a4a"/><rect x="7" y=".2" width="16.8" height="3" fill="#555"/><rect x="0" y="7.1" width="3.4" height="3" fill="#c4c4c4"/><rect x="7" y="7.1" width="16.8" height="3" fill="#c4c4c4"/><rect x="0" y="13.9" width="3.4" height="3" fill="#4a4a4a"/><rect x="7" y="13.9" width="16.8" height="3" fill="#6a6a6a"/></svg>
<div class="t" style="left:873.60px;width:90px;text-align:center;top:577.00px;font-size:8.05px;color:#666;">Price Lists</div>
<svg style="left:532.00px;top:635.80px" width="19" height="24" viewBox="0 0 19 24" fill="none" stroke="#5a5a5a" stroke-width="1.7" stroke-linejoin="miter"><path d="M7 .9h10.7v22.2H1V7z"/><path d="M1 7L7 .9V7z" fill="#5a5a5a" stroke="none"/><path d="M9.4 9.6h6M4.2 14.4h11.2M4.2 18.6h11.2" stroke-width="1.3"/></svg>
<svg style="left:553.90px;top:633.30px" width="11" height="11" viewBox="0 0 11 11"><circle cx="5.5" cy="5.5" r="5.4" fill="#8fc8ec"/><path d="M3.3 4.4h4.4L5.5 6.9z" fill="#e8f6fd"/></svg>
<div class="t" style="left:496.80px;width:90px;text-align:center;top:668.00px;font-size:8.05px;color:#666;">Goods</div><div class="t" style="left:496.80px;width:90px;text-align:center;top:677.00px;font-size:8.05px;color:#666;">Receipt</div>
<svg style="left:720.30px;top:635.80px" width="19" height="24" viewBox="0 0 19 24" fill="none" stroke="#5a5a5a" stroke-width="1.7" stroke-linejoin="miter"><path d="M7 .9h10.7v22.2H1V7z"/><path d="M1 7L7 .9V7z" fill="#5a5a5a" stroke="none"/><path d="M9.4 9.6h6M4.2 14.4h11.2M4.2 18.6h11.2" stroke-width="1.3"/></svg>
<svg style="left:742.10px;top:633.30px" width="11" height="11" viewBox="0 0 11 11"><circle cx="5.5" cy="5.5" r="5.4" fill="#8fc8ec"/><path d="M3.3 4.4h4.4L5.5 6.9z" fill="#e8f6fd"/></svg>
<div class="t" style="left:685.00px;width:90px;text-align:center;top:668.00px;font-size:8.05px;color:#666;">Goods Issue</div>
<svg style="left:814px;top:635.8px" width="20" height="24" viewBox="0 0 20 24" fill="none" stroke-linejoin="miter"><path d="M.8 19.6V.8h14" stroke="#8a8a8a" stroke-width="1.2"/><path d="M8.6 4.6h9.4v18.6H4.6V8.8z" stroke="#333" stroke-width="1.7"/><path d="M4.6 8.8l4-4.2v4.2z" fill="#333"/><path d="M8 11.6h7M8 15.2h7M8 18.8h7" stroke="#333" stroke-width="1.5"/></svg>
<svg style="left:836.10px;top:633.30px" width="11" height="11" viewBox="0 0 11 11"><circle cx="5.5" cy="5.5" r="5.4" fill="#8fc8ec"/><path d="M3.3 4.4h4.4L5.5 6.9z" fill="#e8f6fd"/></svg>
<div class="t" style="left:779.00px;width:90px;text-align:center;top:668.00px;font-size:8.05px;color:#666;">Inventory</div><div class="t" style="left:779.00px;width:90px;text-align:center;top:677.00px;font-size:8.05px;color:#666;">Posting</div>
<svg style="left:906.1px;top:636.1px" width="24" height="24" viewBox="0 0 25 25"><path d="M11.2 13.2V1.6A11.4 11.4 0 1 0 17.4 22.9z" fill="#8c8c8c"/><path d="M12.9 11.2V.9a11.4 11.4 0 0 1 9.6 6.1z" fill="#686868"/><path d="M14 12.6l9.4-4.4a11.4 11.4 0 0 1-4.6 14.2z" fill="#454545"/></svg>
<svg style="left:930.40px;top:633.30px" width="11" height="11" viewBox="0 0 11 11"><circle cx="5.5" cy="5.5" r="5.4" fill="#8fc8ec"/><path d="M3.3 4.4h4.4L5.5 6.9z" fill="#e8f6fd"/></svg>
<div class="t" style="left:873.40px;width:90px;text-align:center;top:668.00px;font-size:8.05px;color:#666;">Inventory</div><div class="t" style="left:873.40px;width:90px;text-align:center;top:677.00px;font-size:8.05px;color:#666;">Reports</div>
<svg style="left:585.00px;top:504.60px;transform-origin:0 4px;transform:rotate(43.55deg)" width="22.35" height="8" viewBox="0 0 22.35 8"><path d="M0 4h15.75" stroke="#9c9c9c" stroke-width="1" stroke-dasharray="1.2 1.3" fill="none"/><path d="M14.75 .5L22.35 4l-7.6 3.5z" fill="#9a9a9a"/></svg>
<svg style="left:680.00px;top:510.60px;transform-origin:0 4px;transform:rotate(-44.63deg)" width="21.92" height="8" viewBox="0 0 21.92 8"><path d="M0 4h15.32" stroke="#9c9c9c" stroke-width="1" stroke-dasharray="1.2 1.3" fill="none"/><path d="M14.32 .5L21.92 4l-7.6 3.5z" fill="#9a9a9a"/></svg>
<svg style="left:585.00px;top:553.70px;transform-origin:0 4px;transform:rotate(0.00deg)" width="19.60" height="8" viewBox="0 0 19.60 8"><path d="M0 4h13.00" stroke="#9c9c9c" stroke-width="1" stroke-dasharray="1.2 1.3" fill="none"/><path d="M12.00 .5L19.60 4l-7.6 3.5z" fill="#9a9a9a"/></svg>
<svg style="left:678.60px;top:553.70px;transform-origin:0 4px;transform:rotate(0.00deg)" width="20.20" height="8" viewBox="0 0 20.20 8"><path d="M0 4h13.60" stroke="#9c9c9c" stroke-width="1" stroke-dasharray="1.2 1.3" fill="none"/><path d="M12.60 .5L20.20 4l-7.6 3.5z" fill="#9a9a9a"/></svg>
<svg style="left:585.00px;top:603.00px;transform-origin:0 4px;transform:rotate(-43.92deg)" width="22.49" height="8" viewBox="0 0 22.49 8"><path d="M0 4h15.89" stroke="#9c9c9c" stroke-width="1" stroke-dasharray="1.2 1.3" fill="none"/><path d="M14.89 .5L22.49 4l-7.6 3.5z" fill="#9a9a9a"/></svg>
<svg style="left:679.00px;top:595.40px;transform-origin:0 4px;transform:rotate(42.51deg)" width="22.79" height="8" viewBox="0 0 22.79 8"><path d="M0 4h16.19" stroke="#9c9c9c" stroke-width="1" stroke-dasharray="1.2 1.3" fill="none"/><path d="M15.19 .5L22.79 4l-7.6 3.5z" fill="#9a9a9a"/></svg>
<svg style="left:116.8px;top:612.0px" width="11" height="11" viewBox="0 0 11 11" fill="none" stroke="#5a5a5a" stroke-width="1.1"><path d="M4.600 9.900H1.500a.7 .7 0 0 1-.7-.7V1.500a.7 .7 0 0 1 .7-.7h7.200a.7 .7 0 0 1 .7 .7v2.500"/><path d="M.8 1.500h8.600" stroke-width="1.600"/><path d="M2.600 3.900h3.600" stroke="#8a8a8a" stroke-width="1.200"/><circle cx="7.700" cy="6.300" r="1.350" fill="#3c3c3c" stroke="none"/><path d="M5.300 10.400c.2-2 1.200-2.500 2.400-2.500s2.200 .5 2.400 2.500z" fill="#3c3c3c" stroke="none"/></svg>
<svg style="left:116.8px;top:632.72px" width="11" height="11" viewBox="0 0 11 11" fill="none" stroke="#5a5a5a" stroke-width="1.1"><path d="M4.600 9.900H1.500a.7 .7 0 0 1-.7-.7V1.500a.7 .7 0 0 1 .7-.7h7.200a.7 .7 0 0 1 .7 .7v2.500"/><path d="M.8 1.500h8.600" stroke-width="1.600"/><path d="M2.600 3.900h3.600" stroke="#8a8a8a" stroke-width="1.200"/><circle cx="7.700" cy="6.300" r="1.350" fill="#3c3c3c" stroke="none"/><path d="M5.300 10.400c.2-2 1.200-2.500 2.400-2.500s2.200 .5 2.400 2.500z" fill="#3c3c3c" stroke="none"/></svg>
<div class="t" style="left:130.70px;top:634.00px;font-size:8.08px;color:#848586;">Delivery</div>
<svg style="left:116.8px;top:653.44px" width="11" height="11" viewBox="0 0 11 11" fill="none" stroke="#5a5a5a" stroke-width="1.1"><path d="M4.600 9.900H1.500a.7 .7 0 0 1-.7-.7V1.500a.7 .7 0 0 1 .7-.7h7.200a.7 .7 0 0 1 .7 .7v2.500"/><path d="M.8 1.500h8.600" stroke-width="1.600"/><path d="M2.600 3.900h3.600" stroke="#8a8a8a" stroke-width="1.200"/><circle cx="7.700" cy="6.300" r="1.350" fill="#3c3c3c" stroke="none"/><path d="M5.300 10.400c.2-2 1.200-2.500 2.400-2.500s2.200 .5 2.400 2.500z" fill="#3c3c3c" stroke="none"/></svg>
<div class="t" style="left:130.70px;top:655.00px;font-size:8.08px;color:#848586;">Procurement Confir...</div>
<svg style="left:116.8px;top:674.16px" width="11" height="11" viewBox="0 0 11 11" fill="none" stroke="#5a5a5a" stroke-width="1.1"><path d="M4.600 9.900H1.500a.7 .7 0 0 1-.7-.7V1.500a.7 .7 0 0 1 .7-.7h7.200a.7 .7 0 0 1 .7 .7v2.500"/><path d="M.8 1.500h8.600" stroke-width="1.600"/><path d="M2.600 3.900h3.600" stroke="#8a8a8a" stroke-width="1.200"/><circle cx="7.700" cy="6.300" r="1.350" fill="#3c3c3c" stroke="none"/><path d="M5.300 10.400c.2-2 1.200-2.500 2.400-2.500s2.200 .5 2.400 2.500z" fill="#3c3c3c" stroke="none"/></svg>
<div class="t" style="left:130.70px;top:675.00px;font-size:8.08px;color:#848586;">MRP Wizard</div>
<svg style="left:218.75px;top:612.0px" width="11" height="11" viewBox="0 0 11 11" fill="none" stroke="#5a5a5a" stroke-width="1.1"><path d="M4.600 9.900H1.500a.7 .7 0 0 1-.7-.7V1.500a.7 .7 0 0 1 .7-.7h7.200a.7 .7 0 0 1 .7 .7v2.500"/><path d="M.8 1.500h8.600" stroke-width="1.600"/><path d="M2.600 3.900h3.600" stroke="#8a8a8a" stroke-width="1.200"/><circle cx="7.700" cy="6.300" r="1.350" fill="#3c3c3c" stroke="none"/><path d="M5.300 10.400c.2-2 1.200-2.500 2.400-2.500s2.200 .5 2.400 2.500z" fill="#3c3c3c" stroke="none"/></svg>
<div class="t" style="left:232.65px;top:614.00px;font-size:8.08px;color:#848586;">Business Partner M...</div>
<svg style="left:218.75px;top:632.72px" width="11" height="11" viewBox="0 0 11 11" fill="none" stroke="#5a5a5a" stroke-width="1.1"><path d="M4.600 9.900H1.500a.7 .7 0 0 1-.7-.7V1.500a.7 .7 0 0 1 .7-.7h7.200a.7 .7 0 0 1 .7 .7v2.500"/><path d="M.8 1.500h8.600" stroke-width="1.600"/><path d="M2.600 3.900h3.600" stroke="#8a8a8a" stroke-width="1.200"/><circle cx="7.700" cy="6.300" r="1.350" fill="#3c3c3c" stroke="none"/><path d="M5.300 10.400c.2-2 1.200-2.500 2.400-2.500s2.200 .5 2.400 2.500z" fill="#3c3c3c" stroke="none"/></svg>
<div class="t" style="left:232.65px;top:634.00px;font-size:8.08px;color:#848586;">Purchase Order</div>
<svg style="left:218.75px;top:653.44px" width="11" height="11" viewBox="0 0 11 11" fill="none" stroke="#5a5a5a" stroke-width="1.1"><path d="M4.600 9.900H1.500a.7 .7 0 0 1-.7-.7V1.500a.7 .7 0 0 1 .7-.7h7.200a.7 .7 0 0 1 .7 .7v2.500"/><path d="M.8 1.500h8.600" stroke-width="1.600"/><path d="M2.600 3.900h3.600" stroke="#8a8a8a" stroke-width="1.200"/><circle cx="7.700" cy="6.300" r="1.350" fill="#3c3c3c" stroke="none"/><path d="M5.300 10.400c.2-2 1.200-2.500 2.400-2.500s2.200 .5 2.400 2.500z" fill="#3c3c3c" stroke="none"/></svg>
<div class="t" style="left:232.65px;top:655.00px;font-size:8.08px;color:#848586;">Item Master Data</div>
<svg style="left:218.75px;top:674.16px" width="11" height="11" viewBox="0 0 11 11" fill="none" stroke="#5a5a5a" stroke-width="1.1"><path d="M1.6 .8h7.8a.8 .8 0 0 1 .8 .8v5L7 10.2H1.6a.8 .8 0 0 1-.8-.8V1.600a.8 .8 0 0 1 .8-.8z"/><path d="M10 6.600H7v3.400" stroke-width=".9"/><path d="M2.600 3.400h5.400" stroke="#9a9a9a" stroke-width="1.3"/></svg>
<div class="t" style="left:232.65px;top:675.00px;font-size:8.08px;color:#848586;">Order Recommend...</div>
<svg style="left:320.7px;top:612.0px" width="11" height="11" viewBox="0 0 11 11" fill="none" stroke="#5a5a5a" stroke-width="1.1"><path d="M4.600 9.900H1.500a.7 .7 0 0 1-.7-.7V1.500a.7 .7 0 0 1 .7-.7h7.200a.7 .7 0 0 1 .7 .7v2.500"/><path d="M.8 1.500h8.600" stroke-width="1.600"/><path d="M2.600 3.900h3.600" stroke="#8a8a8a" stroke-width="1.200"/><circle cx="7.700" cy="6.300" r="1.350" fill="#3c3c3c" stroke="none"/><path d="M5.300 10.400c.2-2 1.200-2.500 2.400-2.500s2.200 .5 2.400 2.500z" fill="#3c3c3c" stroke="none"/></svg>
<div class="t" style="left:334.60px;top:614.00px;font-size:8.08px;color:#848586;">Sales Order</div>
<svg style="left:320.7px;top:632.72px" width="11" height="11" viewBox="0 0 11 11" fill="none" stroke="#5a5a5a" stroke-width="1.1"><path d="M4.600 9.900H1.500a.7 .7 0 0 1-.7-.7V1.500a.7 .7 0 0 1 .7-.7h7.200a.7 .7 0 0 1 .7 .7v2.500"/><path d="M.8 1.500h8.600" stroke-width="1.600"/><path d="M2.600 3.900h3.600" stroke="#8a8a8a" stroke-width="1.200"/><circle cx="7.700" cy="6.300" r="1.350" fill="#3c3c3c" stroke="none"/><path d="M5.300 10.400c.2-2 1.200-2.500 2.400-2.500s2.200 .5 2.400 2.500z" fill="#3c3c3c" stroke="none"/></svg>
<div class="t" style="left:334.60px;top:634.00px;font-size:8.08px;color:#848586;">Goods Receipt PO</div>
<svg style="left:320.7px;top:653.44px" width="11" height="11" viewBox="0 0 11 11" fill="none" stroke="#5a5a5a" stroke-width="1.1"><path d="M4.600 9.900H1.500a.7 .7 0 0 1-.7-.7V1.500a.7 .7 0 0 1 .7-.7h7.200a.7 .7 0 0 1 .7 .7v2.500"/><path d="M.8 1.500h8.600" stroke-width="1.600"/><path d="M2.600 3.900h3.600" stroke="#8a8a8a" stroke-width="1.200"/><circle cx="7.700" cy="6.300" r="1.350" fill="#3c3c3c" stroke="none"/><path d="M5.300 10.400c.2-2 1.200-2.500 2.400-2.500s2.200 .5 2.400 2.500z" fill="#3c3c3c" stroke="none"/></svg>
<div class="t" style="left:334.60px;top:655.00px;font-size:8.08px;color:#848586;">Forecasts</div>
<svg style="left:320.7px;top:674.16px" width="11" height="11" viewBox="0 0 11 11" fill="none" stroke="#5a5a5a" stroke-width="1.1"><path d="M4.600 9.900H1.500a.7 .7 0 0 1-.7-.7V1.500a.7 .7 0 0 1 .7-.7h7.200a.7 .7 0 0 1 .7 .7v2.500"/><path d="M.8 1.500h8.600" stroke-width="1.600"/><path d="M2.600 3.900h3.600" stroke="#8a8a8a" stroke-width="1.200"/><circle cx="7.700" cy="6.300" r="1.350" fill="#3c3c3c" stroke="none"/><path d="M5.300 10.400c.2-2 1.200-2.500 2.400-2.500s2.200 .5 2.400 2.500z" fill="#3c3c3c" stroke="none"/></svg>
<div class="t" style="left:334.60px;top:675.00px;font-size:8.08px;color:#848586;">Return</div>
<svg style="left:420px;top:580px" width="14" height="14" viewBox="0 0 14 14" fill="none"><path d="M3.300 1.900A2.350 2.350 0 1 1 3.300 5.900" stroke="#3a3a3a" stroke-width="1.500"/><path d="M6 6l5.600 5.500" stroke="#4a4a4a" stroke-width="1.900"/></svg>
<svg style="left:1024px;top:527.4px" width="10" height="16" viewBox="0 0 10 16"><path d="M.7 .8v10.400l2.400-2.200 2 4.800 1.500-.6-2-4.700h3.500z" fill="rgba(255,255,255,.72)" stroke="#3c4a48" stroke-width=".7" stroke-linejoin="round"/></svg>
<div style="position:absolute;left:4px;top:684px;width:1271.5px;height:1px;background:#c9cfd0;"></div>
<div style="position:absolute;left:4px;top:685px;width:1271.5px;height:30.4px;background:#fefefe;"></div>
<div style="position:absolute;left:8.6px;top:689.2px;width:597px;height:10px;background:#e8e8e8;border:1px solid #c2bcbc;box-sizing:border-box;border-radius:1px;"></div>
<div style="position:absolute;left:8.6px;top:703.2px;width:597px;height:9.6px;background:#e8e8e8;border:1px solid #c2bcbc;box-sizing:border-box;border-radius:1px;"></div>
<div style="position:absolute;left:674px;top:689.2px;width:253.6px;height:10px;background:#e8e8e8;border:1px solid #c2bcbc;box-sizing:border-box;border-radius:1px;"></div>
<div style="position:absolute;left:674px;top:703.2px;width:253.6px;height:9.6px;background:#e8e8e8;border:1px solid #c2bcbc;box-sizing:border-box;border-radius:1px;"></div>
<div style="position:absolute;left:930.6px;top:689.2px;width:251px;height:10px;background:#e8e8e8;border:1px solid #c2bcbc;box-sizing:border-box;border-radius:1px;"></div>
<div style="position:absolute;left:930.6px;top:703.2px;width:251px;height:9.6px;background:#e8e8e8;border:1px solid #c2bcbc;box-sizing:border-box;border-radius:1px;"></div>
<div class="t" style="left:599.40px;width:80px;text-align:center;top:690.00px;font-size:7.7px;color:#222;font-family:'DejaVu Sans','Liberation Sans',sans-serif;">06/26/2017</div>
<div class="t" style="left:599.40px;width:80px;text-align:center;top:704.00px;font-size:7.7px;color:#222;font-family:'DejaVu Sans','Liberation Sans',sans-serif;">16:46</div>
<div class="t" style="left:1198.40px;top:691.00px;font-size:19.2px;color:#8c8c8c;font-weight:bold;letter-spacing:-1.5px;transform:scaleX(.83);transform-origin:0 50%;-webkit-text-stroke:.7px #8c8c8c;">SAP</div>
<div class="t" style="left:1231.60px;top:693.00px;font-size:6.8px;color:#a2a2a2;">Business</div>
<div class="t" style="left:1231.60px;top:698.00px;font-size:10.5px;color:#e4b53c;font-weight:bold;letter-spacing:-0.1px;">One</div>
<svg style="left:1266px;top:705px" width="9" height="9" viewBox="0 0 9 9" fill="#8a8a8a"><rect x="6.5" y=".5" width="1.4" height="1.4"/><rect x="4" y="3" width="1.4" height="1.4"/><rect x="6.5" y="3" width="1.4" height="1.4"/><rect x="1.5" y="5.5" width="1.4" height="1.4"/><rect x="4" y="5.5" width="1.4" height="1.4"/><rect x="6.5" y="5.5" width="1.4" height="1.4"/></svg>
<div style="position:absolute;left:0px;top:0px;width:1280px;height:5px;background:linear-gradient(180deg,#1d6c84 0,#1d6c84 1px,#6fc7e1 1px,#74c9e1 100%);"></div>
<div style="position:absolute;left:0px;top:5px;width:5.2px;height:712px;background:linear-gradient(90deg,#62c1ec 0,#80cbe4 3px,#e6f5fa 3.8px,#eef9fc 100%);"></div>
<div style="position:absolute;left:1274.6px;top:5px;width:5.4px;height:712px;background:linear-gradient(90deg,#f4fbfd 0,#f4fbfd 1.4px,#a8d6e8 2.1px,#86c3e0 4.1px,#215f80 4.4px);"></div>
<div style="position:absolute;left:0px;top:715.2px;width:1280px;height:4.8px;background:linear-gradient(180deg,#c9dde9 0,#8db2ca 1.2px,#a6cde6 3.2px,#1b4c60 3.8px,#1b4c60 100%);"></div>
<svg style="left:400px;top:0" width="480" height="23" viewBox="0 0 480 23">
<defs><linearGradient id="tb" x1="0" y1="0" x2="0" y2="1"><stop offset="0" stop-color="#7aa7d6"/><stop offset=".47" stop-color="#5f8fc9"/><stop offset=".49" stop-color="#2f5fa3"/><stop offset="1" stop-color="#2a559a"/></linearGradient></defs>
<path d="M2 0H478L468 21.5H13Z" fill="url(#tb)"/>
<path d="M2 0L13 21.500H468L478 0" fill="none" stroke="#1d3f78" stroke-width="1" opacity=".8"/>
<path d="M37.5 8h9l-4.5 4.6z" fill="#fff"/>
<rect x="51" y="9" width="19" height="10" fill="#5c86c4" opacity=".28"/>
<path d="M55.800 9.800h4.400" stroke="#fff" stroke-width="1.300" fill="none"/><path d="M60.600 5.200v9M66.200 6.200v7" stroke="#fff" stroke-width="1.500" fill="none"/><rect x="60.600" y="8.200" width="5.600" height="3.200" fill="#fff"/>
<path d="M74.200 12.300h2v2.400h-2zM77 10.300h2v4.400h-2zM79.900 7.500h2v7.200h-2zM82.800 4.200h2.200v10.500h-2.200z" fill="#fff"/>
<rect x="395" y="12.6" width="8" height="2.2" fill="#fff"/>
<path d="M414.6 8.6h6v6h-6zM417 8.4v-3h6.4v6h-2.6" fill="none" stroke="#fff" stroke-width="1.2"/>
<path d="M434 6.2l7.6 7.6M441.6 6.2l-7.6 7.6" stroke="#fff" stroke-width="2"/>
</svg>
<div class="t" style="left:580.00px;width:120px;text-align:center;top:7.00px;font-size:9.3px;color:#e8f0fa;">34.197.140.233</div>
</div></body></html>
